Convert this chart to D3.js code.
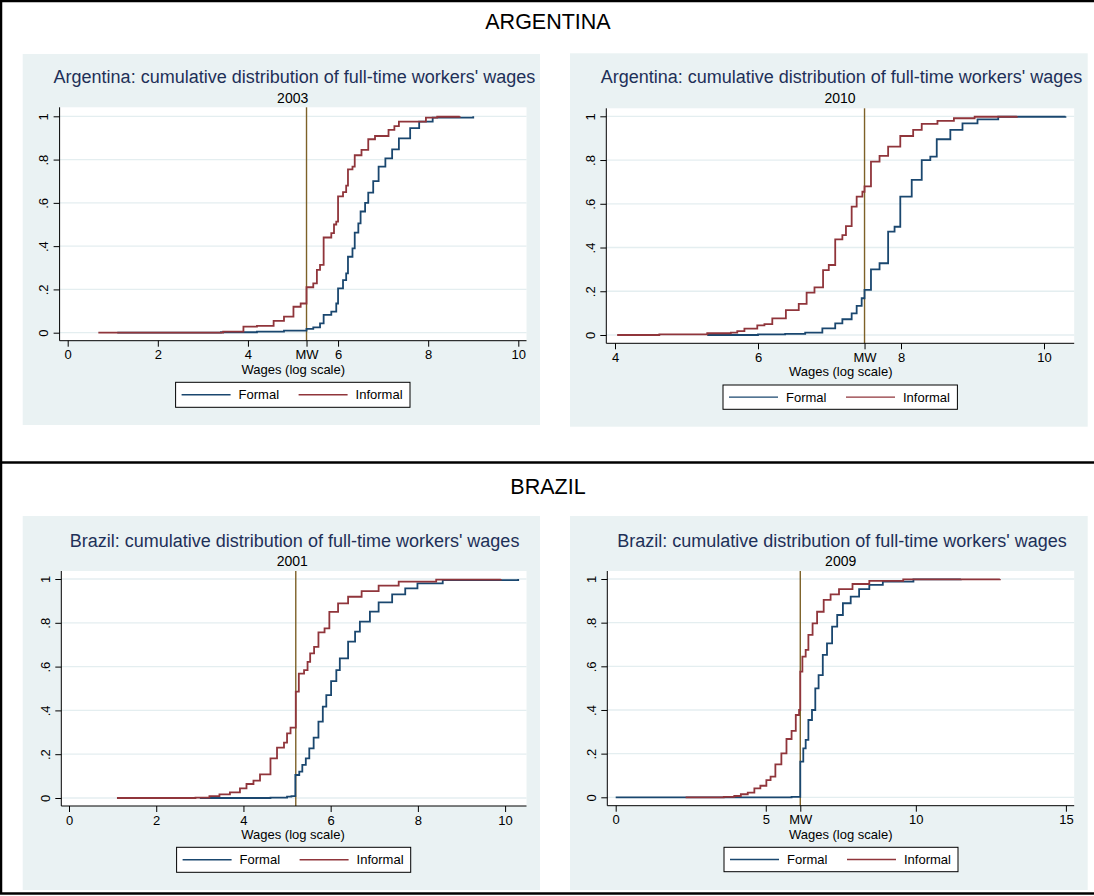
<!DOCTYPE html>
<html><head><meta charset="utf-8">
<script src="https://cdn.jsdelivr.net/npm/d3@7"></script>
<style>
body{margin:0;background:#fff}
svg{display:block}
text{font-family:"Liberation Sans",Arial,sans-serif}
</style>
</head><body><svg id="c" width="1094" height="896"></svg>
<script>
// ---------------- DATA ----------------
const sectionTitles = ["ARGENTINA", "BRAZIL"];
const panelTitles = [
  "Argentina: cumulative distribution of full-time workers' wages",
  "Argentina: cumulative distribution of full-time workers' wages",
  "Brazil: cumulative distribution of full-time workers' wages",
  "Brazil: cumulative distribution of full-time workers' wages"
];
const panelYears = ["2003", "2010", "2001", "2009"];
const seriesNames = ["Formal", "Informal"];
const axisTitle = "Wages (log scale)";
const yTickValues = [0, 0.2, 0.4, 0.6, 0.8, 1];
const yTickLabels = ["0", ".2", ".4", ".6", ".8", "1"];
const xTicksArg2003 = [0, 2, 4, 6, 8, 10];
const xTicksArg2010 = [4, 6, 8, 10];
const xTicksBra2001 = [0, 2, 4, 6, 8, 10];
const xTicksBra2009 = [0, 5, 10, 15];
const minWage = [5.3, 7.49, 5.2, 6.15];
const minWageLabel = ["MW", "MW", null, "MW"];

// cumulative shares: [log wage, cumulative share]
const arg2003Formal = [[1.1,0],[3.4,0.002],[4.2,0.005],[4.8,0.01],[5.3,0.018],[5.45,0.025],[5.6,0.043],[5.68,0.082],[5.85,0.097],[5.96,0.135],[6.0,0.205],[6.11,0.243],[6.18,0.274],[6.22,0.351],[6.32,0.39],[6.37,0.462],[6.45,0.505],[6.5,0.56],[6.6,0.6],[6.67,0.647],[6.78,0.7],[6.9,0.767],[7.05,0.806],[7.2,0.847],[7.35,0.898],[7.6,0.945],[7.8,0.975],[8.1,0.994],[9.0,1.0]];
const arg2003Informal = [[0.68,0],[3.45,0.005],[3.9,0.028],[4.2,0.032],[4.57,0.055],[4.8,0.074],[5.01,0.12],[5.17,0.135],[5.3,0.21],[5.45,0.228],[5.53,0.29],[5.6,0.313],[5.68,0.44],[5.85,0.46],[5.91,0.5],[5.96,0.513],[6.0,0.63],[6.11,0.65],[6.18,0.68],[6.22,0.755],[6.32,0.767],[6.37,0.82],[6.52,0.845],[6.67,0.894],[6.82,0.909],[7.12,0.937],[7.25,0.955],[7.35,0.975],[7.95,0.994],[8.2,0.998],[8.7,1.0]];
const arg2010Formal = [[5.29,0],[6.0,0.003],[6.38,0.005],[6.66,0.011],[6.9,0.03],[7.08,0.053],[7.18,0.072],[7.31,0.099],[7.38,0.133],[7.45,0.168],[7.49,0.206],[7.58,0.3],[7.7,0.328],[7.82,0.473],[7.91,0.495],[7.99,0.633],[8.15,0.709],[8.29,0.8],[8.41,0.816],[8.5,0.895],[8.69,0.9375],[8.86,0.968],[9.07,0.986],[9.36,0.998],[10.3,1.0]];
const arg2010Informal = [[4.03,0],[4.62,0.003],[5.29,0.008],[5.62,0.011],[5.71,0.018],[5.81,0.029],[5.99,0.044],[6.09,0.05],[6.2,0.076],[6.39,0.114],[6.57,0.142],[6.68,0.194],[6.79,0.218],[6.91,0.297],[6.99,0.32],[7.08,0.437],[7.18,0.457],[7.23,0.498],[7.31,0.587],[7.38,0.633],[7.46,0.655],[7.49,0.68],[7.58,0.793],[7.7,0.819],[7.82,0.861],[7.99,0.91],[8.17,0.9375],[8.29,0.965],[8.51,0.979],[8.74,0.991],[9.03,0.998],[9.62,1.0]];
const bra2001Formal = [[3.0,0],[4.62,0.002],[5.0,0.006],[5.1,0.009],[5.19,0.105],[5.28,0.12],[5.35,0.151],[5.43,0.181],[5.51,0.227],[5.61,0.276],[5.72,0.349],[5.82,0.417],[5.9,0.47],[6.01,0.534],[6.13,0.584],[6.21,0.638],[6.4,0.714],[6.56,0.76],[6.67,0.805],[6.9,0.851],[7.1,0.893],[7.41,0.93],[7.71,0.957],[7.99,0.98],[8.57,0.995],[10.3,1.0]];
const bra2001Informal = [[1.1,0],[2.9,0.002],[3.22,0.009],[3.45,0.017],[3.69,0.026],[3.92,0.044],[4.07,0.064],[4.23,0.079],[4.38,0.108],[4.62,0.181],[4.77,0.23],[4.93,0.253],[5.0,0.295],[5.08,0.321],[5.2,0.486],[5.27,0.568],[5.39,0.584],[5.47,0.622],[5.53,0.66],[5.62,0.69],[5.72,0.756],[5.86,0.775],[5.97,0.85],[6.17,0.889],[6.4,0.919],[6.71,0.945],[7.1,0.97],[7.56,0.988],[8.42,0.997],[9.9,1.0]];
const bra2009Formal = [[0,0],[5.86,0.002],[6.15,0.163],[6.25,0.224],[6.33,0.263],[6.42,0.354],[6.54,0.4],[6.65,0.499],[6.76,0.56],[6.9,0.652],[7.04,0.705],[7.21,0.782],[7.38,0.835],[7.57,0.889],[7.83,0.919],[8.11,0.954],[8.45,0.973],[8.9,0.988],[9.92,0.998],[11.5,1.0]];
const bra2009Informal = [[2.33,0],[3.6,0.002],[3.95,0.006],[4.17,0.014],[4.4,0.021],[4.62,0.041],[4.82,0.053],[5.02,0.079],[5.16,0.095],[5.32,0.151],[5.52,0.2015],[5.69,0.267],[5.86,0.304],[6.0,0.377],[6.11,0.4],[6.15,0.576],[6.22,0.644],[6.33,0.675],[6.42,0.744],[6.56,0.797],[6.71,0.85],[6.93,0.904],[7.16,0.93],[7.44,0.954],[7.89,0.977],[8.45,0.991],[9.58,0.998],[12.8,1.0]];

const panelTicks = [xTicksArg2003, xTicksArg2010, xTicksBra2001, xTicksBra2009];
const panelSeries = [
  [arg2003Formal, arg2003Informal],
  [arg2010Formal, arg2010Informal],
  [bra2001Formal, bra2001Informal],
  [bra2009Formal, bra2009Informal]
];

// ---------------- STYLE / LAYOUT ----------------
const seriesColors = ["#1a476f", "#90353b"];
const mwColor = "#7d6128";
const panelBg = "#eaf2f3";
const gridColor = "#e4eef0";
const titleColor = "#1e3058";

const layout = [
  {bg:[22.7,54,540,425], left:59.6, right:526.5, top:107.3, axisY:340.7, xr:[67.7,518.3], yr:[332.7,116.3],
   tx:294.4, ty:83.3, sx:292.7, sy:103, tickY:359.5, atx:293.3, aty:374, leg:[175.6,382.3,410,407.3]},
  {bg:[570,53.3,1087.7,426.7], left:606.3, right:1074.2, top:108.3, axisY:343.3, xr:[615,1044], yr:[335,116.3],
   tx:841.5, ty:83.3, sx:840, sy:103.3, tickY:362, atx:840.7, aty:376, leg:[723,385,957.4,409.3]},
  {bg:[22.7,516,540,890], left:61.3, right:526.5, top:571, axisY:806, xr:[69,505.1], yr:[798,579],
   tx:294.6, ty:546.7, sx:292.3, sy:566, tickY:824.5, atx:293, aty:839.3, leg:[176.6,847.3,410.7,872.3]},
  {bg:[570,516,1087.7,890], left:607.3, right:1074.2, top:571, axisY:805.7, xr:[615.7,1065.9], yr:[797.3,579],
   tx:842, ty:547, sx:840.7, sy:566, tickY:824.5, atx:840.7, aty:838.7, leg:[724,847.3,958,871.7]}
];
const sectionLayout = [{y:29}, {y:494}];

// ---------------- DRAW ----------------
const svg = d3.select("#c");

// frame lines
svg.append("line").attr("x1",0).attr("x2",1094).attr("y1",1).attr("y2",1).attr("stroke","#000").attr("stroke-width",2.5);
svg.append("line").attr("x1",1).attr("x2",1).attr("y1",0).attr("y2",894).attr("stroke","#000").attr("stroke-width",2.5);
svg.append("line").attr("x1",0).attr("x2",1094).attr("y1",462.5).attr("y2",462.5).attr("stroke","#000").attr("stroke-width",2.5);
svg.append("line").attr("x1",0).attr("x2",1094).attr("y1",893.5).attr("y2",893.5).attr("stroke","#000").attr("stroke-width",2.5);

sectionTitles.forEach((t,i)=>{
  svg.append("text").attr("x",548).attr("y",sectionLayout[i].y).attr("text-anchor","middle")
    .attr("font-size",21.5).attr("fill","#000").text(t);
});

panelTitles.forEach((title,i)=>{
  const L = layout[i];
  const g = svg.append("g");
  g.append("rect").attr("x",L.bg[0]).attr("y",L.bg[1]).attr("width",L.bg[2]-L.bg[0]).attr("height",L.bg[3]-L.bg[1]).attr("fill",panelBg);
  g.append("rect").attr("x",L.left).attr("y",L.top).attr("width",L.right-L.left).attr("height",L.axisY-L.top).attr("fill","#fff");

  const ticks = panelTicks[i];
  const x = d3.scaleLinear().domain(d3.extent(ticks)).range(L.xr);
  const y = d3.scaleLinear().domain([0,1]).range(L.yr);

  // grid
  g.selectAll(".grid").data(yTickValues).enter().append("line")
    .attr("x1",L.left).attr("x2",L.right).attr("y1",d=>y(d)).attr("y2",d=>y(d))
    .attr("stroke",gridColor).attr("stroke-width",1.3);

  // MW line
  g.append("line").attr("x1",x(minWage[i])).attr("x2",x(minWage[i])).attr("y1",L.top).attr("y2",L.axisY)
    .attr("stroke",mwColor).attr("stroke-width",1.4);

  // series
  const line = d3.line().x(d=>x(d[0])).y(d=>y(d[1])).curve(d3.curveStepAfter);
  panelSeries[i].forEach((s,k)=>{
    g.append("path").attr("d",line(s)).attr("fill","none").attr("stroke",seriesColors[k]).attr("stroke-width",1.8);
  });

  // x axis
  const xtv = ticks.slice(); const xtl = ticks.map(String);
  if (minWageLabel[i]) { xtv.push(minWage[i]); xtl.push(minWageLabel[i]); }
  const xa = g.append("g").attr("transform",`translate(0,${L.axisY})`)
    .call(d3.axisBottom(x).tickValues(xtv).tickFormat((d,j)=>xtl[j]).tickSize(6));
  xa.select(".domain").remove();
  xa.selectAll("line").attr("stroke","#000");
  xa.selectAll("text").attr("y",L.tickY-L.axisY).attr("dy",null).attr("font-size",13).attr("fill","#000")
    .attr("font-family","'Liberation Sans',Arial,sans-serif");
  g.append("line").attr("x1",L.left).attr("x2",L.right).attr("y1",L.axisY).attr("y2",L.axisY).attr("stroke","#000").attr("stroke-width",1);

  // y axis
  const ya = g.append("g").attr("transform",`translate(${L.left},0)`)
    .call(d3.axisLeft(y).tickValues(yTickValues).tickFormat((d,j)=>yTickLabels[j]).tickSize(6));
  ya.select(".domain").remove();
  ya.selectAll("line").attr("stroke","#000");
  ya.selectAll("text").attr("x",null).attr("dy",null).attr("text-anchor","middle")
    .attr("transform","translate(-11.6,0) rotate(-90)").attr("font-size",13).attr("fill","#000")
    .attr("font-family","'Liberation Sans',Arial,sans-serif");
  g.append("line").attr("x1",L.left).attr("x2",L.left).attr("y1",L.top).attr("y2",L.axisY).attr("stroke","#000").attr("stroke-width",1);

  // titles
  g.append("text").attr("x",L.tx).attr("y",L.ty).attr("text-anchor","middle").attr("font-size",18).attr("fill",titleColor).text(title);
  g.append("text").attr("x",L.sx).attr("y",L.sy).attr("text-anchor","middle").attr("font-size",14).attr("fill","#000").text(panelYears[i]);
  g.append("text").attr("x",L.atx).attr("y",L.aty).attr("text-anchor","middle").attr("font-size",13).attr("fill","#000").text(axisTitle);

  // legend
  const [lx0,ly0,lx1,ly1] = L.leg;
  const my = (ly0+ly1)/2;
  g.append("rect").attr("x",lx0).attr("y",ly0).attr("width",lx1-lx0).attr("height",ly1-ly0).attr("fill","#fff").attr("stroke","#000").attr("stroke-width",1);
  const offs = [[6,55,63],[123,172,180]];
  seriesNames.forEach((n,k)=>{
    g.append("line").attr("x1",lx0+offs[k][0]).attr("x2",lx0+offs[k][1]).attr("y1",my).attr("y2",my)
      .attr("stroke",seriesColors[k]).attr("stroke-width",1.4);
    g.append("text").attr("x",lx0+offs[k][2]).attr("y",my+4.6).attr("font-size",13).attr("fill","#000").text(n);
  });
});
</script>
</body></html>
